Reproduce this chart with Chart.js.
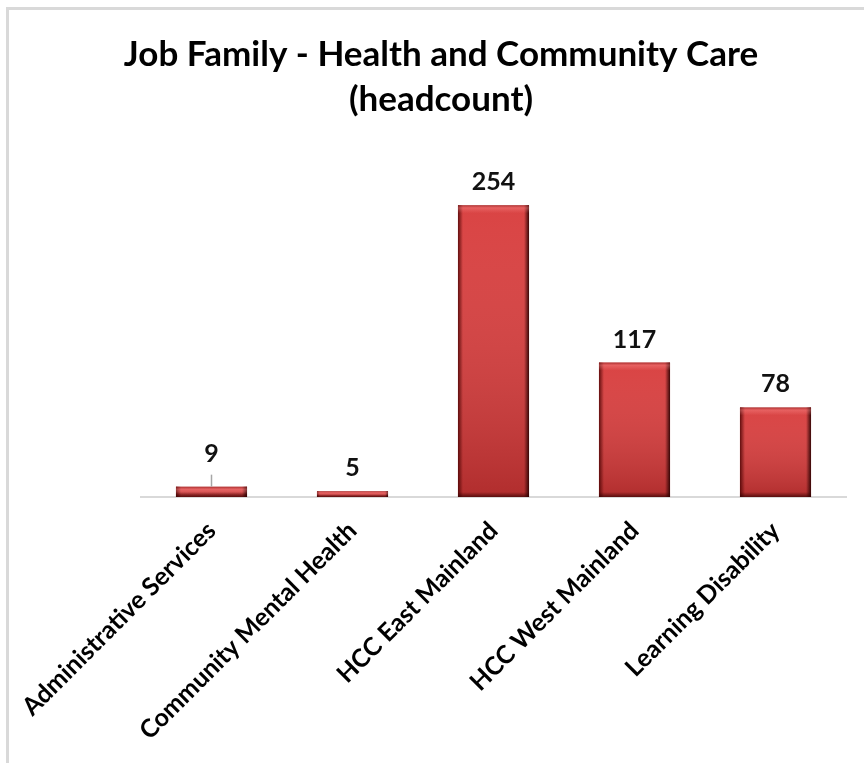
<!DOCTYPE html>
<html>
<head>
<meta charset="utf-8">
<title>Job Family - Health and Community Care</title>
<script src="https://cdn.jsdelivr.net/npm/chart.js@4"></script>
<style>
  body { margin: 0; background: #fff; }
  #wrap { position: relative; width: 864px; height: 763px; }
  #frame {
    position: absolute; left: 6px; top: 7px; right: 0; bottom: 0;
    border-top: 3px solid #d9d9d9; border-left: 3px solid #d9d9d9;
    pointer-events: none;
  }
</style>
</head>
<body>
<div id="wrap">
  <canvas id="myChart"></canvas>
  <div id="frame"></div>
</div>
<script>
const titleLines = ['Job Family - Health and Community Care', '(headcount)'];
const categories = [
  'Administrative Services',
  'Community Mental Health',
  'HCC East Mainland',
  'HCC West Mainland',
  'Learning Disability'
];
const headcount = [9, 5, 254, 117, 78];

const FONT = 'Lato, Calibri, Carlito, sans-serif';

// shading on top of each bar so it looks bevelled
const bevel = {
  id: 'bevel',
  afterDatasetsDraw(chart) {
    const ctx = chart.ctx;
    chart.getDatasetMeta(0).data.forEach(bar => {
      const x0 = bar.x - bar.width / 2, x1 = bar.x + bar.width / 2;
      const y0 = bar.y, y1 = bar.base;
      const h = y1 - y0, w = x1 - x0;
      ctx.save();
      let g = ctx.createLinearGradient(0, y0, 0, y1);
      g.addColorStop(0, 'rgba(255,255,255,0.04)');
      g.addColorStop(1, 'rgba(60,0,0,0.25)');
      ctx.fillStyle = g;
      ctx.fillRect(x0, y0, w, h);
      const e = Math.min(5, h / 2);
      // left / right dark edges
      g = ctx.createLinearGradient(x0, 0, x0 + e, 0);
      g.addColorStop(0, 'rgba(70,0,0,0.8)');
      g.addColorStop(1, 'rgba(70,0,0,0)');
      ctx.fillStyle = g;
      ctx.fillRect(x0, y0, e, h);
      g = ctx.createLinearGradient(x1, 0, x1 - e, 0);
      g.addColorStop(0, 'rgba(40,0,0,0.9)');
      g.addColorStop(1, 'rgba(40,0,0,0)');
      ctx.fillStyle = g;
      ctx.fillRect(x1 - e, y0, e, h);
      // top highlight and bottom shade
      g = ctx.createLinearGradient(0, y0, 0, y0 + e * 1.6);
      g.addColorStop(0, 'rgba(120,20,20,0.5)');
      g.addColorStop(0.35, 'rgba(255,150,150,0.35)');
      g.addColorStop(1, 'rgba(255,150,150,0)');
      ctx.fillStyle = g;
      ctx.fillRect(x0, y0, w, Math.min(e * 1.6, h));
      g = ctx.createLinearGradient(0, y1, 0, y1 - e);
      g.addColorStop(0, 'rgba(50,0,0,0.7)');
      g.addColorStop(1, 'rgba(50,0,0,0)');
      ctx.fillStyle = g;
      ctx.fillRect(x0, y1 - e, w, e);
      ctx.restore();
    });
  }
};

// value labels above the bars; the first one sits higher with a leader line
const valueLabels = {
  id: 'valueLabels',
  afterDatasetsDraw(chart, args, opts) {
    const ctx = chart.ctx;
    const values = chart.data.datasets[0].data;
    ctx.save();
    ctx.font = 'bold 25px ' + FONT;
    ctx.fillStyle = '#111';
    ctx.textAlign = 'center';
    ctx.textBaseline = 'middle';
    chart.getDatasetMeta(0).data.forEach((bar, i) => {
      const lift = opts.lift[i] || 0;
      const y = bar.y - 23 - lift;
      ctx.fillText(values[i], bar.x, y);
      if (lift) {
        ctx.strokeStyle = '#a6a6a6';
        ctx.lineWidth = 1.5;
        ctx.beginPath();
        ctx.moveTo(bar.x, y + 21);
        ctx.lineTo(bar.x, bar.y);
        ctx.stroke();
      }
    });
    ctx.restore();
  }
};

const ctx = document.getElementById('myChart').getContext('2d');

const config = {
  type: 'bar',
  data: {
    labels: categories,
    datasets: [{
      data: headcount,
      backgroundColor: '#d83c3c',
      borderWidth: 0,
      barPercentage: 0.72,
      categoryPercentage: 0.7
    }]
  },
  options: {
    responsive: true,
    maintainAspectRatio: false,
    animation: false,
    layout: { padding: { left: 36, right: 18, top: 0, bottom: 0 } },
    plugins: {
      legend: { display: false },
      tooltip: { enabled: false },
      title: {
        display: true,
        text: titleLines,
        color: '#000',
        font: { family: FONT, size: 35, weight: 'bold', lineHeight: 1.29 },
        padding: { top: 32, bottom: 30 }
      },
      valueLabels: { lift: { 0: 10 } }
    },
    scales: {
      x: {
        grid: { display: false },
        border: { display: true, color: '#d9d9d9', width: 2 },
        ticks: {
          color: '#000',
          font: { family: FONT, size: 25, weight: 'bold' },
          minRotation: 45,
          maxRotation: 45,
          autoSkip: false,
          padding: 11
        },
        afterFit(scale) { scale.height = 266; }
      },
      y: {
        min: 0,
        max: 300,
        grid: { display: false },
        border: { display: false },
        ticks: { display: false },
        afterFit(scale) { scale.width = 105; }
      }
    }
  },
  plugins: [bevel, valueLabels]
};

const myChart = new Chart(ctx, config);
</script>
</body>
</html>
